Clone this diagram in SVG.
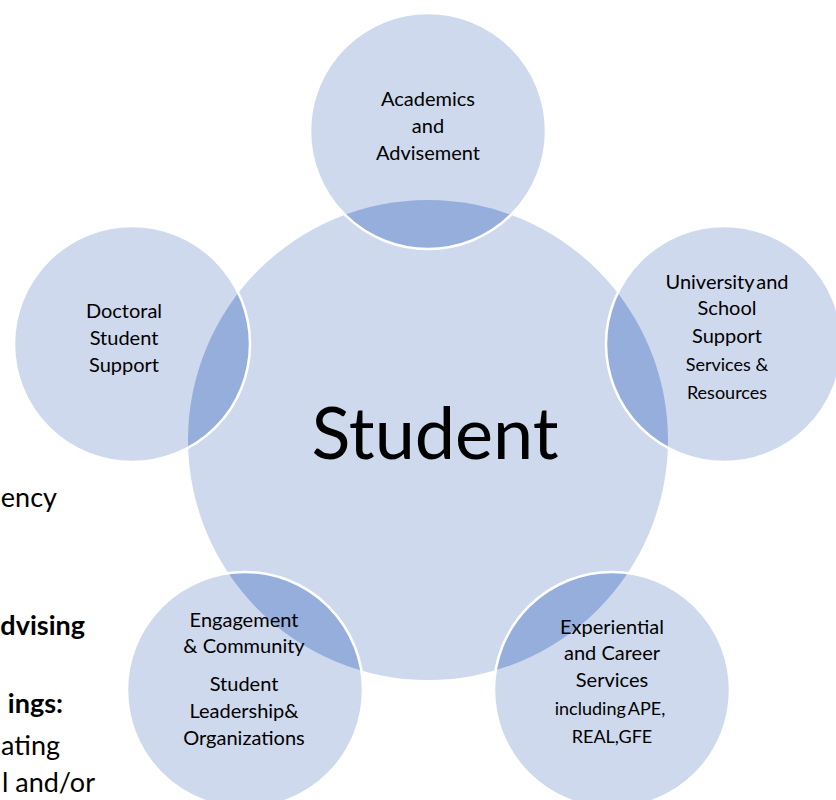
<svg xmlns="http://www.w3.org/2000/svg" width="836" height="800" viewBox="0 0 836 800">
  <style>
    .fill { fill: #cfd9ed; }
    .lens { fill: #95aedc; }
    .ring { fill: none; stroke: #ffffff; stroke-width: 2.5; }
    .lbl { font-family: Lato, "Liberation Sans", sans-serif; font-size: 20px; fill: #000000; text-anchor: middle; }
    .sm { font-size: 18px; }
    .big { font-family: Lato, "Liberation Sans", sans-serif; font-size: 72px; fill: #000000; text-anchor: middle; }
    .doc { font-family: Lato, "Liberation Sans", sans-serif; font-size: 27px; fill: #000000; text-anchor: end; }
    .b { font-weight: bold; }
  </style>
  <defs>
    <clipPath id="centerClip"><circle cx="428" cy="440" r="240"/></clipPath>
  </defs>
  <rect width="836" height="800" fill="#ffffff"/>

  <g id="side-text">
    <text class="doc" x="57" y="507">ency</text>
    <text class="doc b" x="85" y="635">dvising</text>
    <text class="doc b" x="63" y="713">ings:</text>
    <text class="doc" x="60" y="755">ating</text>
    <text class="doc" x="95" y="792">l and/or</text>
  </g>

  <g id="student">
    <circle class="fill" cx="428" cy="440" r="240"/>
    <text class="big" x="435" y="459">Student</text>
  </g>

  <g id="academics">
    <circle class="fill" cx="428" cy="131" r="118"/>
    <circle class="lens" cx="428" cy="131" r="118" clip-path="url(#centerClip)"/>
    <circle class="ring" cx="428" cy="131" r="118"/>
    <text class="lbl" x="428" y="106">Academics</text>
    <text class="lbl" x="428" y="133">and</text>
    <text class="lbl" x="428" y="160">Advisement</text>
  </g>

  <g id="university">
    <circle class="fill" cx="724" cy="344" r="118"/>
    <circle class="lens" cx="724" cy="344" r="118" clip-path="url(#centerClip)"/>
    <circle class="ring" cx="724" cy="344" r="118"/>
    <text class="lbl" x="727" y="289" word-spacing="-3">University and</text>
    <text class="lbl" x="727" y="315">School</text>
    <text class="lbl" x="727" y="343">Support</text>
    <text class="lbl sm" x="727" y="371">Services &amp;</text>
    <text class="lbl sm" x="727" y="399">Resources</text>
  </g>

  <g id="experiential">
    <circle class="fill" cx="612" cy="690" r="118"/>
    <circle class="lens" cx="612" cy="690" r="118" clip-path="url(#centerClip)"/>
    <circle class="ring" cx="612" cy="690" r="118"/>
    <text class="lbl" x="612" y="634">Experiential</text>
    <text class="lbl" x="612" y="660">and Career</text>
    <text class="lbl" x="612" y="687">Services</text>
    <text class="lbl sm" x="610" y="715" word-spacing="-2">including APE,</text>
    <text class="lbl sm" x="612" y="743">REAL,GFE</text>
  </g>

  <g id="engagement">
    <circle class="fill" cx="245" cy="690" r="118"/>
    <circle class="lens" cx="245" cy="690" r="118" clip-path="url(#centerClip)"/>
    <circle class="ring" cx="245" cy="690" r="118"/>
    <text class="lbl" x="244" y="627">Engagement</text>
    <text class="lbl" x="244" y="653">&amp; Community</text>
    <text class="lbl" x="244" y="691">Student</text>
    <text class="lbl" x="244" y="718">Leadership&amp;</text>
    <text class="lbl" x="244" y="745">Organizations</text>
  </g>

  <g id="doctoral">
    <circle class="fill" cx="132" cy="344" r="118"/>
    <circle class="lens" cx="132" cy="344" r="118" clip-path="url(#centerClip)"/>
    <circle class="ring" cx="132" cy="344" r="118"/>
    <text class="lbl" x="124" y="318">Doctoral</text>
    <text class="lbl" x="124" y="345">Student</text>
    <text class="lbl" x="124" y="372">Support</text>
  </g>

  <g id="connectors"></g>
</svg>
